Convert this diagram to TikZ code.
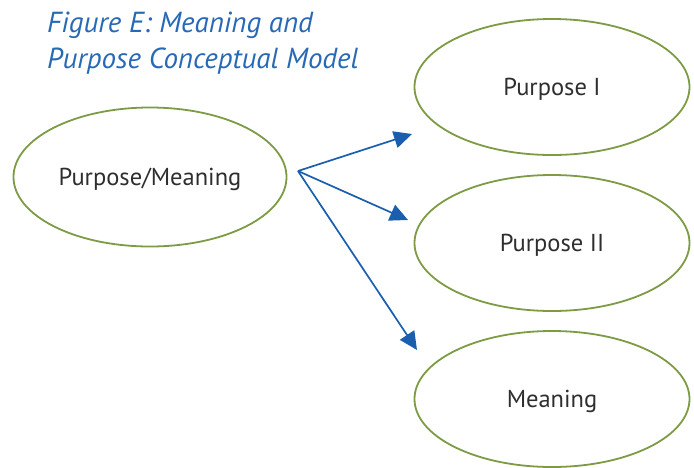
\documentclass[tikz,border=0pt]{standalone}
\usepackage{fontspec}
\setmainfont{PT Sans}
\usetikzlibrary{shapes.geometric,arrows.meta}
\definecolor{ovalgreen}{HTML}{7D9B44}
\definecolor{arrowblue}{HTML}{1B5EAD}
\definecolor{titleblue}{HTML}{2869B5}
\definecolor{labelgray}{HTML}{2E2E2E}
\tikzset{
  oval/.style={ellipse, draw=ovalgreen, line width=1.8pt, minimum width=273pt, minimum height=136pt,
    text=labelgray, font=\fontsize{24.5}{28}\selectfont, inner sep=0pt, text depth=0pt},
  link/.style={draw=arrowblue, line width=1.7pt, -{Triangle[length=18pt,width=17pt]}},
}
\begin{document}
\begin{tikzpicture}[x=1pt,y=-1pt]
  \useasboundingbox (0,0) rectangle (694,467);
  \node[anchor=base west, text=titleblue, font=\fontsize{29}{36}\selectfont\itshape, align=left,
        inner sep=0pt] (title) at (47,68) {Figure E: Meaning and\\Purpose Conceptual Model};
  \node[oval, minimum height=139pt] (src) at (150,177) {Purpose/Meaning};
  \node[oval, minimum width=275pt] (p1) at (552,87) {Purpose I};
  \node[oval, minimum width=275pt] (p2) at (552,243) {Purpose II};
  \node[oval, minimum width=275pt] (mn) at (552,399) {Meaning};
  \coordinate (hub) at (298,171);
  \coordinate (e1) at (412,134);
  \coordinate (e2) at (408,220);
  \coordinate (e3) at (417,350);
  \draw[link] (hub) -- (e1);
  \draw[link] (hub) -- (e2);
  \draw[link] (hub) -- (e3);
\end{tikzpicture}
\end{document}
